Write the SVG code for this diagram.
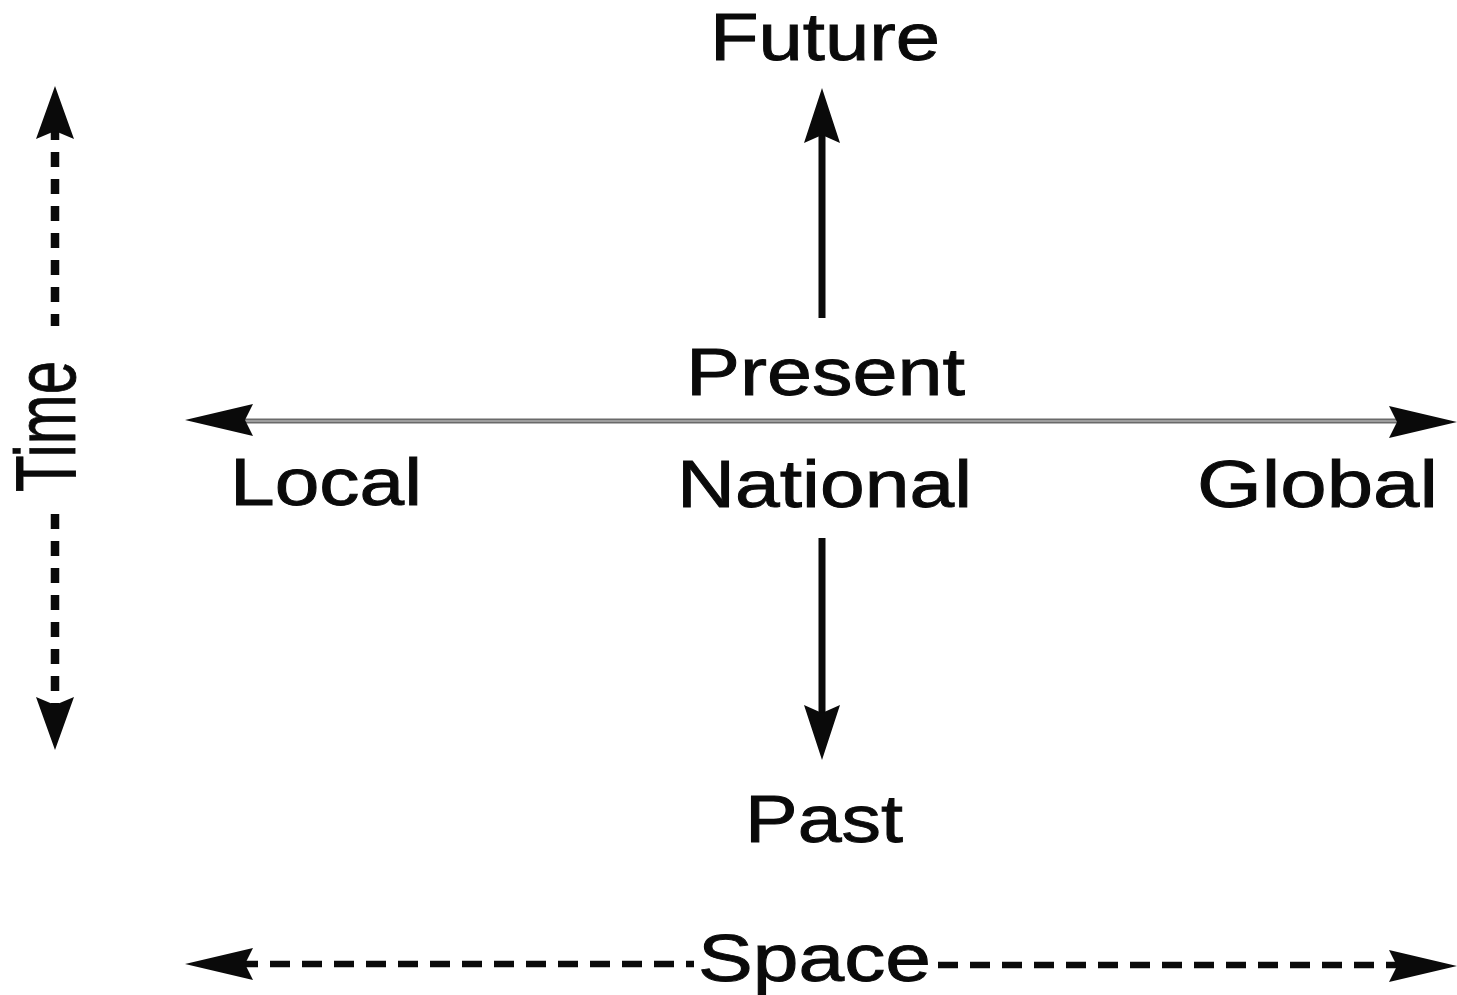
<svg xmlns="http://www.w3.org/2000/svg" width="1457" height="995" viewBox="0 0 1457 995">
<style>
.lbl{font-family:"Liberation Sans",Arial,sans-serif;font-size:66px;fill:#0a0a0a;stroke:#0a0a0a;stroke-width:0.9}
.solid{stroke:#0a0a0a;stroke-width:7;fill:none}
.dash{stroke:#0a0a0a;fill:none}
.head{fill:#0a0a0a}
</style>
<defs>
<path id="hv" d="M0,0 L-55,-18 L-47,0 L-55,18 Z"/>
<path id="hh" d="M0,0 L-68,-16 L-60,0 L-68,16 Z"/>
<path id="ht" d="M0,0 L-53,-19 L-45,0 L-53,19 Z"/>
</defs>
<rect width="1457" height="995" fill="#fff"/>
<g id="connectors">
  <line class="solid" x1="822" y1="318" x2="822" y2="130"/>
  <use href="#hv" class="head" transform="translate(822,88) rotate(-90)"/>
  <line class="solid" x1="822" y1="538" x2="822" y2="718"/>
  <use href="#hv" class="head" transform="translate(822,760) rotate(90)"/>
  <line x1="245" y1="421" x2="1400" y2="421" stroke="#6a6a6a" stroke-width="5"/>
  <line x1="245" y1="421" x2="1400" y2="421" stroke="#cfcfcf" stroke-width="1.2"/>
  <use href="#hh" class="head" transform="translate(185,420) rotate(180)"/>
  <use href="#hh" class="head" transform="translate(1457,422)"/>
  <line class="dash" x1="55" y1="125" x2="55" y2="326" stroke-width="8.5" stroke-dasharray="15 12"/>
  <line class="dash" x1="55" y1="514" x2="55" y2="712" stroke-width="8.5" stroke-dasharray="15 12"/>
  <use href="#ht" class="head" transform="translate(55,86) rotate(-90)"/>
  <use href="#ht" class="head" transform="translate(55,750) rotate(90)"/>
  <line class="dash" x1="238" y1="964" x2="694" y2="964" stroke-width="6.5" stroke-dasharray="20 12"/>
  <line class="dash" x1="938" y1="965" x2="1402" y2="965" stroke-width="6.5" stroke-dasharray="20 12"/>
  <use href="#hh" class="head" transform="translate(185,964) rotate(180)"/>
  <use href="#hh" class="head" transform="translate(1457,966)"/>
</g>
<g id="future"><text class="lbl" x="710" y="60" textLength="230" lengthAdjust="spacingAndGlyphs">Future</text></g>
<g id="present"><text class="lbl" x="686" y="395" textLength="279" lengthAdjust="spacingAndGlyphs">Present</text></g>
<g id="local"><text class="lbl" x="230" y="505" textLength="192" lengthAdjust="spacingAndGlyphs">Local</text></g>
<g id="national"><text class="lbl" x="677" y="507" textLength="295" lengthAdjust="spacingAndGlyphs">National</text></g>
<g id="global"><text class="lbl" x="1197" y="507" textLength="241" lengthAdjust="spacingAndGlyphs">Global</text></g>
<g id="past"><text class="lbl" x="745" y="842" textLength="158" lengthAdjust="spacingAndGlyphs">Past</text></g>
<g id="space"><text class="lbl" x="698" y="981" textLength="233" lengthAdjust="spacingAndGlyphs">Space</text></g>
<g id="time"><text class="lbl" style="font-size:85px" transform="translate(75,492) rotate(-90)" x="0" y="0" textLength="131" lengthAdjust="spacingAndGlyphs">Time</text></g>
</svg>
